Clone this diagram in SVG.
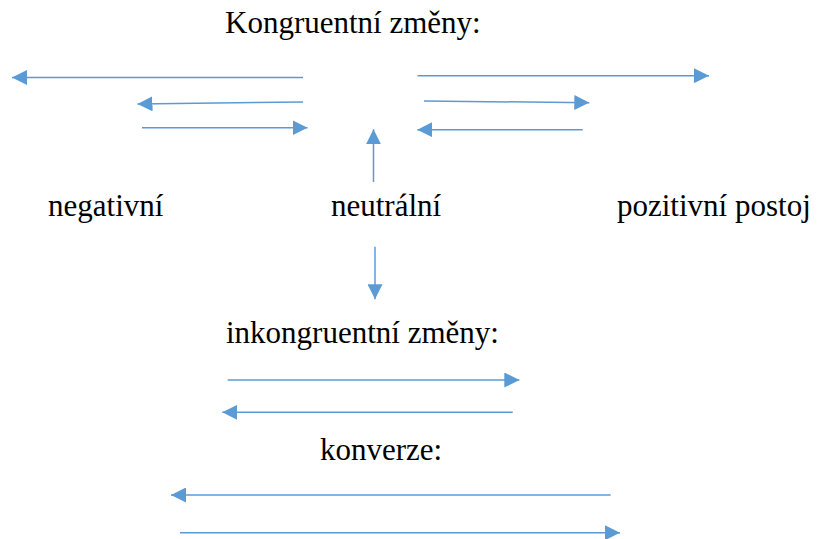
<svg xmlns="http://www.w3.org/2000/svg" width="817" height="539" viewBox="0 0 817 539">
<defs>
<marker id="ah" viewBox="0 0 15 15" refX="15" refY="7.5" markerWidth="15" markerHeight="15" markerUnits="userSpaceOnUse" orient="auto">
<path d="M0,0 L15,7.5 L0,15 Z" fill="#5b9bd5"/>
</marker>
<style>
text{font-family:'Times New Roman',Tinos,'Liberation Serif','Noto Serif','DejaVu Serif',serif;font-size:31px;fill:#000}
.c line{stroke:#5b9bd5;stroke-width:1.5;marker-end:url(#ah)}
</style>
</defs>
<rect width="817" height="539" fill="#fff"/>
<g id="kongruentni"><text x="225" y="33">Kongruentní změny:</text></g>
<g id="negativni"><text x="48" y="216">negativní</text></g>
<g id="neutralni"><text x="331" y="216">neutrální</text></g>
<g id="pozitivni"><text x="617" y="216">pozitivní postoj</text></g>
<g id="inkongruentni"><text x="226" y="343">inkongruentní změny:</text></g>
<g id="konverze"><text x="320" y="460">konverze:</text></g>
<g class="c" id="connectors">
<line x1="303" y1="77.5" x2="12" y2="77.5"/>
<line x1="303" y1="102" x2="137.5" y2="104"/>
<line x1="142" y1="127.7" x2="307.5" y2="127.7"/>
<line x1="417.5" y1="75.7" x2="709" y2="75.7"/>
<line x1="424" y1="101" x2="589.3" y2="102.7"/>
<line x1="582.7" y1="129.7" x2="417.3" y2="129.7"/>
<line x1="373.5" y1="182" x2="373.5" y2="129.3"/>
<line x1="375" y1="246.7" x2="375" y2="299.3"/>
<line x1="227.7" y1="380" x2="519.3" y2="380"/>
<line x1="512.7" y1="412.3" x2="222.3" y2="412.3"/>
<line x1="610.7" y1="495" x2="171" y2="495"/>
<line x1="180" y1="532.7" x2="620" y2="532.7"/>
</g>
</svg>
